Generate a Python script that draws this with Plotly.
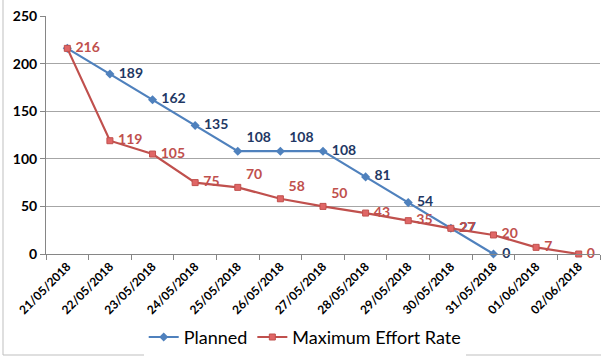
import plotly.graph_objects as go

dates = ["21/05/2018", "22/05/2018", "23/05/2018", "24/05/2018", "25/05/2018",
         "26/05/2018", "27/05/2018", "28/05/2018", "29/05/2018", "30/05/2018",
         "31/05/2018", "01/06/2018", "02/06/2018"]
planned = [216, 189, 162, 135, 108, 108, 108, 81, 54, 27, 0]
max_effort = [216, 119, 105, 75, 70, 58, 50, 43, 35, 27, 20, 7, 0]

planned_pos = ["middle right", "middle right", "middle right", "middle right",
               "top right", "top right", "middle right", "middle right",
               "middle right", "middle right", "middle right"]
effort_pos = ["middle right", "middle right", "middle right", "middle right",
              "top right", "top right", "top right", "middle right",
              "middle right", "middle right", "middle right", "middle right",
              "middle right"]

BLUE = "#4F81BD"
RED = "#C0504D"
FONT = "Lato"
GAP = "\u00a0"

# the shared starting value is labelled once, by the red series drawn on top
planned_text = [GAP + str(v) for v in planned]
planned_text[0] = ""

fig = go.Figure()
fig.add_trace(go.Scatter(
    x=dates[:len(planned)], y=planned, name="Planned",
    mode="lines+markers+text",
    line=dict(color=BLUE, width=2.2),
    marker=dict(symbol="diamond", size=7, color=BLUE),
    text=planned_text, textposition=planned_pos,
    textfont=dict(family=FONT, size=14, color="#1F3864", weight="bold"),
    cliponaxis=False,
))
fig.add_trace(go.Scatter(
    x=dates, y=max_effort, name="Maximum Effort Rate",
    mode="lines+markers+text",
    line=dict(color=RED, width=2.2),
    marker=dict(symbol="square", size=6, color="#E06666",
                line=dict(color=RED, width=1)),
    text=[GAP + str(v) for v in max_effort], textposition=effort_pos,
    textfont=dict(family=FONT, size=14, color=RED, weight="bold"),
    cliponaxis=False,
))

fig.update_layout(
    width=601, height=358,
    margin=dict(l=46, r=1, t=16, b=104),
    paper_bgcolor="white", plot_bgcolor="white",
    font=dict(family=FONT, color="black"),
    showlegend=True,
    legend=dict(orientation="h", x=0.467, xanchor="center", y=-0.35, yanchor="middle",
                font=dict(family=FONT, size=18, color="black"),
                itemwidth=30, tracegroupgap=0),
    xaxis=dict(type="category", categoryorder="array", categoryarray=dates,
               range=[-0.5, 12.5], tickson="boundaries", ticks="outside",
               ticklen=5, tickcolor="#868686", showline=True, linecolor="#868686",
               linewidth=1, showgrid=False, tickangle=-45,
               tickfont=dict(family=FONT, size=12, color="black", weight="bold")),
    yaxis=dict(range=[0, 250], dtick=50, ticks="outside", ticklen=5,
               tickcolor="#868686", showline=True, linecolor="#868686", linewidth=1,
               showgrid=True, gridcolor="#A6A6A6", gridwidth=1, zeroline=False,
               tickfont=dict(family=FONT, size=14, color="black", weight="bold")),
    shapes=[
        dict(type="line", xref="paper", yref="paper",
             x0=(3 - 46) / 554, x1=(3 - 46) / 554, y0=(254 - 0) / 238, y1=(254 - 355) / 238,
             line=dict(color="#BFBFBF", width=1)),
        dict(type="line", xref="paper", yref="paper",
             x0=(3 - 46) / 554, x1=1.01, y0=(254 - 355) / 238, y1=(254 - 355) / 238,
             line=dict(color="#BFBFBF", width=1)),
    ],
)

fig.write_html("out.html")
